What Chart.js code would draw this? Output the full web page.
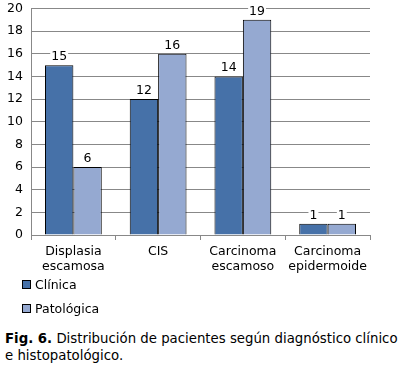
<!DOCTYPE html>
<html>
<head>
<meta charset="utf-8">
<script src="https://cdn.jsdelivr.net/npm/chart.js@4"></script>
<style>
  body { margin:0; background:#fff; font-family:"DejaVu Sans", Verdana, sans-serif; overflow:hidden; }
  #wrap { position:absolute; left:0; top:-7px; width:411px; height:297px; }
  #legend { position:absolute; left:22px; top:277px; font-size:12.5px; color:#000; }
  #legend div { height:24px; line-height:16px; }
  #legend span.box { display:inline-block; width:7px; height:7px; border:1px solid #000; margin-right:4px; vertical-align:0px; }
  #cap { position:absolute; left:5px; top:330px; font-size:13.3px; line-height:17px; color:#000; white-space:nowrap; }
</style>
</head>
<body>
<div id="wrap"><canvas id="c" width="411" height="297"></canvas></div>
<div id="legend"></div>
<div id="cap"><b>Fig. 6.</b> Distribución de pacientes según diagnóstico clínico<br>e histopatológico.</div>
<script>
// values
const categories = [['Displasia','escamosa'], 'CIS', ['Carcinoma','escamoso'], ['Carcinoma','epidermoide']];
const clinica = [15, 12, 14, 1];
const patologica = [6, 16, 19, 1];
const seriesNames = ['Clínica', 'Patológica'];
const seriesColors = ['#4671a8', '#95a9d1'];

const FONT = '"DejaVu Sans", Verdana, sans-serif';

// numbers above bars, with a white box like the original
const barLabels = {
  id: 'barLabels',
  afterDatasetsDraw(chart){
    const ctx = chart.ctx;
    ctx.save();
    ctx.font = '12.5px ' + FONT;
    ctx.textAlign = 'center';
    ctx.textBaseline = 'bottom';
    chart.data.datasets.forEach((ds, i) => {
      chart.getDatasetMeta(i).data.forEach((bar, j) => {
        const txt = String(ds.data[j]);
        const w = ctx.measureText(txt).width;
        ctx.fillStyle = '#fff';
        ctx.fillRect(bar.x - w/2 - 1, bar.y - 16, w + 2, 13);
        ctx.fillStyle = '#000';
        ctx.fillText(txt, bar.x, bar.y - 2);
      });
    });
    ctx.restore();
  }
};

const chart = new Chart(document.getElementById('c'), {
  type: 'bar',
  data: {
    labels: categories,
    datasets: [
      { label: seriesNames[0], data: clinica, backgroundColor: seriesColors[0], borderColor: '#000', borderWidth: 1 },
      { label: seriesNames[1], data: patologica, backgroundColor: seriesColors[1], borderColor: '#000', borderWidth: 1 }
    ]
  },
  options: {
    responsive: false,
    animation: false,
    categoryPercentage: 0.67,
    barPercentage: 1,
    layout: { padding: { top: 0, right: 41, left: 0, bottom: 0 } },
    plugins: { legend: { display: false }, tooltip: { enabled: false } },
    scales: {
      x: {
        grid: { offset: true, drawOnChartArea: false, color: '#888', tickLength: 5 },
        border: { color: '#888' },
        ticks: { color: '#000', font: { family: FONT, size: 12.5 }, padding: 4, maxRotation: 0, autoSkip: false },
        afterFit: s => { s.height = 55; }
      },
      y: {
        min: 0, max: 20,
        ticks: { stepSize: 2, color: '#000', font: { family: FONT, size: 12.5 }, padding: 8 },
        grid: { color: '#888', drawTicks: false },
        border: { color: '#888' },
        afterFit: s => { s.width = 31; }
      }
    }
  },
  plugins: [barLabels]
});

// legend from the dataset names/colours
const leg = document.getElementById('legend');
seriesNames.forEach((n, i) => {
  const d = document.createElement('div');
  d.innerHTML = '<span class="box" style="background:' + seriesColors[i] + '"></span>' + n;
  leg.appendChild(d);
});
</script>
</body>
</html>
